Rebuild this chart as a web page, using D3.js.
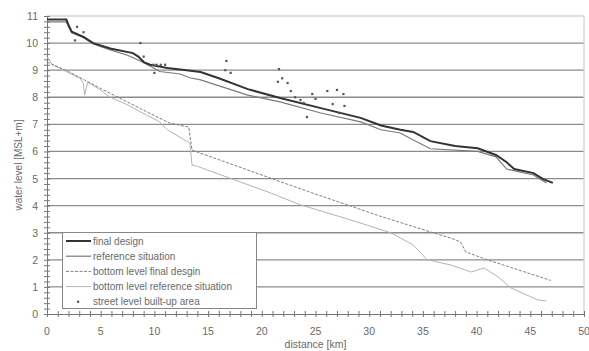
<!DOCTYPE html>
<html>
<head>
<meta charset="utf-8">
<script src="https://cdn.jsdelivr.net/npm/d3@7"></script>
<style>
  body { margin: 0; background: #fff; }
  svg text { font-family: "Liberation Sans", Arial, sans-serif; fill: #6a6a6a; }
</style>
</head>
<body>
<svg id="chart" width="589" height="351"></svg>
<script>
// distance [km], water level [m]
const finalDesign = [
  [0, 10.87], [1.8, 10.87], [2.0, 10.67], [2.3, 10.42], [3.4, 10.23], [4.3, 10.0],
  [5.9, 9.8], [8.0, 9.63], [8.5, 9.5], [9.0, 9.3], [9.6, 9.2], [11.2, 9.08],
  [13, 9.0], [14.3, 8.93], [16, 8.7], [18.7, 8.3], [21.7, 7.97], [25.5, 7.6],
  [29.2, 7.24], [31.1, 6.96], [32.9, 6.8], [34.1, 6.72], [35.7, 6.38], [38, 6.2],
  [40.1, 6.12], [41.8, 5.87], [42.8, 5.6], [43.5, 5.35], [45.3, 5.2], [46.2, 4.98],
  [47.1, 4.84]
];
const referenceSituation = [
  [0, 10.78], [1.8, 10.78], [2.0, 10.6], [2.3, 10.38], [3.4, 10.2], [4.3, 9.97],
  [5.9, 9.75], [7.5, 9.55], [8.9, 9.3], [10.5, 8.95], [12.4, 8.86], [13.3, 8.72],
  [14.3, 8.64], [18.7, 8.08], [21.7, 7.83], [25.5, 7.42], [29.2, 7.09], [31.1, 6.8],
  [32.9, 6.68], [34.1, 6.42], [35.7, 6.1], [40.1, 6.0], [41.8, 5.8], [42.8, 5.35],
  [45.3, 5.13], [46.5, 4.84]
];
const bottomFinal = [
  [0, 9.3], [2, 8.95], [5.6, 8.2], [8.7, 7.58], [11.4, 7.05], [13.2, 6.9],
  [13.5, 6.05], [23.6, 4.62], [31.1, 3.6], [35.7, 3.03], [37.6, 2.8], [38.5, 2.66],
  [39.0, 2.29], [41, 2.0], [46.9, 1.24]
];
const bottomReference = [
  [0, 9.5], [0.5, 9.2], [1.9, 8.93], [3.1, 8.7], [3.4, 8.5], [3.5, 8.08], [3.8, 8.56],
  [4.7, 8.34], [5.9, 8.0], [7.5, 7.72], [8.7, 7.46], [10.5, 7.09], [11.2, 6.8],
  [13.3, 6.31], [13.5, 5.5], [14, 5.45], [20.8, 4.47], [23.6, 4.03], [28.3, 3.47],
  [32, 3.0], [34.1, 2.55], [35.4, 2.0], [37.6, 1.81], [39.5, 1.55], [40.7, 1.7],
  [42, 1.37], [43.2, 0.96], [45.7, 0.52], [46.5, 0.48]
];
const streetLevel = [
  [2.8, 10.6], [3.4, 10.4], [2.6, 10.1], [8.7, 10.0], [9.0, 9.5], [9.9, 9.2],
  [10.2, 9.2], [10.6, 9.2], [11, 9.2], [10, 8.9], [16.7, 9.34], [16.6, 9.0],
  [17.1, 8.9], [21.6, 9.04], [21.9, 8.7], [21.5, 8.57], [22.4, 8.53], [22.7, 8.23],
  [23.1, 8.0], [23.6, 7.9], [23.9, 7.79], [24.2, 7.27], [24.7, 8.12], [25, 7.94],
  [26.1, 8.23], [27, 8.27], [27.6, 8.12], [26.6, 7.75], [27.7, 7.68], [27.2, 7.42]
];
const xTicks = [0, 5, 10, 15, 20, 25, 30, 35, 40, 45, 50];
const yTicks = [0, 1, 2, 3, 4, 5, 6, 7, 8, 9, 10, 11];
const legendLabels = [
  'final design',
  'reference situation',
  'bottom level final desgin',
  'bottom level reference situation',
  'street level built-up area'
];

const svg = d3.select('#chart');
const x = d3.scaleLinear().domain([0, 50]).range([47, 584]);
const y = d3.scaleLinear().domain([0, 11]).range([314, 16]);

// grid
svg.append('g')
  .selectAll('line')
  .data(yTicks.filter(d => d > 0))
  .enter()
  .append('line')
  .attr('x1', x(0)).attr('x2', x(50))
  .attr('y1', d => y(d)).attr('y2', d => y(d))
  .attr('stroke', d => d === 11 ? '#d4d4d4' : '#8c8c8c')
  .attr('stroke-width', 1.3);
svg.append('line')
  .attr('x1', x(50)).attr('x2', x(50))
  .attr('y1', y(0)).attr('y2', y(11))
  .attr('stroke', '#d4d4d4').attr('stroke-width', 1.3);

// axes
const xAxis = d3.axisBottom(x).tickValues(d3.range(0, 51, 1)).tickSize(3).tickFormat('');
svg.append('g').attr('transform', `translate(0,${y(0)})`).call(xAxis)
  .call(g => g.selectAll('line').attr('stroke', '#777').attr('y1', -3))
  .call(g => g.select('.domain').attr('stroke', '#777'));
svg.append('g')
  .selectAll('text')
  .data(xTicks)
  .enter()
  .append('text')
  .attr('x', d => x(d))
  .attr('y', 335)
  .attr('text-anchor', 'middle')
  .style('font-size', '10.5px')
  .text(d => d);

const yAxis = d3.axisLeft(y).tickValues(d3.range(0, 11.01, 0.2)).tickSize(3).tickFormat('');
svg.append('g').attr('transform', `translate(${x(0)},0)`).call(yAxis)
  .call(g => g.selectAll('line').attr('stroke', '#777').attr('x1', 3))
  .call(g => g.select('.domain').attr('stroke', '#777'));
svg.append('g')
  .selectAll('text')
  .data(yTicks)
  .enter()
  .append('text')
  .attr('x', 38)
  .attr('y', d => y(d) + 4)
  .attr('text-anchor', 'end')
  .style('font-size', '10.5px')
  .text(d => d);

svg.append('text')
  .attr('x', x(25)).attr('y', 348)
  .attr('text-anchor', 'middle')
  .style('font-size', '10.5px')
  .text('distance [km]');
svg.append('text')
  .attr('transform', `translate(22,${y(5.5)}) rotate(-90)`)
  .attr('text-anchor', 'middle')
  .style('font-size', '10px')
  .text('water level [MSL+m]');

// lines
const line = d3.line().x(d => x(d[0])).y(d => y(d[1]));
const styles = [
  { data: bottomReference, stroke: '#b4b4b4', width: 1, dash: null },
  { data: bottomFinal, stroke: '#808080', width: 1, dash: '3,1.5' },
  { data: referenceSituation, stroke: '#7a7a7a', width: 1.2, dash: null },
  { data: finalDesign, stroke: '#333', width: 2, dash: null }
];
svg.append('g')
  .selectAll('path')
  .data(styles)
  .enter()
  .append('path')
  .attr('d', d => line(d.data))
  .attr('fill', 'none')
  .attr('stroke', d => d.stroke)
  .attr('stroke-width', d => d.width)
  .attr('stroke-dasharray', d => d.dash);

svg.append('g')
  .selectAll('rect')
  .data(streetLevel)
  .enter()
  .append('rect')
  .attr('x', d => x(d[0]) - 1.1)
  .attr('y', d => y(d[1]) - 1.1)
  .attr('width', 2.2)
  .attr('height', 2.2)
  .attr('fill', '#555');

// legend
const legend = svg.append('g');
legend.append('rect')
  .attr('x', 62.5).attr('y', 232.5)
  .attr('width', 194).attr('height', 76)
  .attr('fill', '#fff')
  .attr('stroke', '#888');
const sample = [
  { stroke: '#333', width: 2, dash: null },
  { stroke: '#7a7a7a', width: 1.2, dash: null },
  { stroke: '#808080', width: 1, dash: '3,1.5' },
  { stroke: '#b4b4b4', width: 1, dash: null },
  null
];
legendLabels.forEach((label, i) => {
  const ly = 241 + i * 15.2;
  if (sample[i]) {
    legend.append('line')
      .attr('x1', 66).attr('x2', 91)
      .attr('y1', ly).attr('y2', ly)
      .attr('stroke', sample[i].stroke)
      .attr('stroke-width', sample[i].width)
      .attr('stroke-dasharray', sample[i].dash);
  } else {
    legend.append('rect')
      .attr('x', 77).attr('y', ly - 1.1)
      .attr('width', 2.2).attr('height', 2.2)
      .attr('fill', '#555');
  }
  legend.append('text')
    .attr('x', 93).attr('y', ly + 3.6)
    .style('font-size', '10px')
    .text(label);
});
</script>
</body>
</html>
